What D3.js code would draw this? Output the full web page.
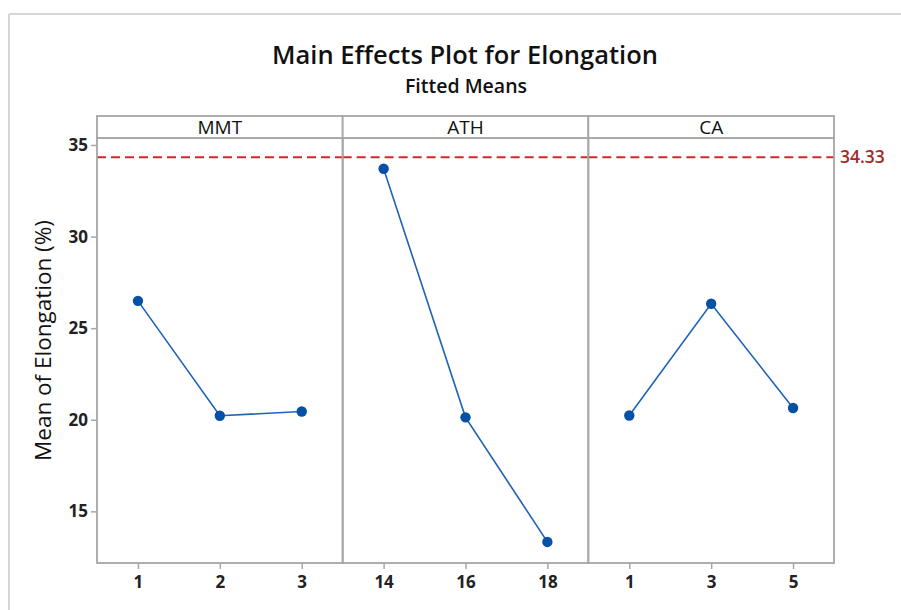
<!DOCTYPE html>
<html>
<head>
<meta charset="utf-8">
<script src="https://cdn.jsdelivr.net/npm/d3@7"></script>
<style>
  html, body { margin: 0; padding: 0; background: #fff; }
  svg { display: block; font-family: "Open Sans", "Noto Sans", sans-serif; }
</style>
</head>
<body>
<svg id="chart" width="901" height="610"></svg>
<script>
// Factors and their levels
const factors = ["MMT", "ATH", "CA"];
const mmtLevels = ["1", "2", "3"];
const athLevels = ["14", "16", "18"];
const caLevels = ["1", "3", "5"];

// Fitted means of elongation (%) at each level
const mmtMeans = [26.49, 20.22, 20.45];
const athMeans = [33.70, 20.13, 13.33];
const caMeans = [20.23, 26.33, 20.64];

// Reference line value and y-axis ticks
const refValue = 34.33;
const yTicks = [15, 20, 25, 30, 35];
const yDomain = [12.18, 35.38];

const panels = [
  { name: factors[0], levels: mmtLevels, means: mmtMeans },
  { name: factors[1], levels: athLevels, means: athMeans },
  { name: factors[2], levels: caLevels, means: caMeans }
];

const svg = d3.select("#chart");

// Layout
const plotLeft = 97, plotRight = 834;
const stripTop = 116, plotTop = 138, plotBottom = 563;
const panelW = (plotRight - plotLeft) / panels.length;

const frameColor = "#a6a6a6";
const lineColor = "#1f63b6";
const pointColor = "#0451a5";
const refColor = "#d8252c";
const refLabelColor = "#a32a2a";
const fontFam = "\"Open Sans\", \"Noto Sans\", sans-serif";

// Outer light frame
svg.append("line").attr("x1", 9).attr("x2", 901).attr("y1", 14).attr("y2", 14)
  .attr("stroke", "#d6d6d6").attr("stroke-width", 2);
svg.append("line").attr("x1", 9).attr("x2", 9).attr("y1", 14).attr("y2", 610)
  .attr("stroke", "#d6d6d6").attr("stroke-width", 2);

// Titles
svg.append("text").attr("x", 465).attr("y", 64).attr("text-anchor", "middle")
  .attr("font-size", 25.5).attr("font-weight", 600).attr("fill", "#111")
  .text("Main Effects Plot for Elongation");
svg.append("text").attr("x", 466).attr("y", 93).attr("text-anchor", "middle")
  .attr("font-size", 19.5).attr("font-weight", 600).attr("fill", "#111")
  .text("Fitted Means");

// Shared y scale
const y = d3.scaleLinear().domain(yDomain).range([plotBottom, plotTop]);

// Y axis
const yAxis = d3.axisLeft(y).tickValues(yTicks).tickSize(6).tickPadding(3);
const gy = svg.append("g").attr("transform", `translate(${plotLeft},0)`).call(yAxis);
gy.select(".domain").remove();
gy.selectAll(".tick line").attr("stroke", frameColor).attr("stroke-width", 1.5);
gy.selectAll(".tick text").attr("font-size", 17).attr("font-weight", 700)
  .attr("fill", "#222").attr("font-family", fontFam);

// Y axis title
svg.append("text")
  .attr("transform", `translate(51,${(plotTop + plotBottom) / 2 - 10}) rotate(-90)`)
  .attr("text-anchor", "middle").attr("font-size", 22.5).attr("font-weight", 500)
  .attr("fill", "#111")
  .text("Mean of Elongation (%)");

const line = d3.line();

panels.forEach((p, i) => {
  const x0 = plotLeft + i * panelW;
  const x = d3.scalePoint().domain(p.levels).range([x0, x0 + panelW]).padding(0.5);

  // x axis ticks
  const xAxis = d3.axisBottom(x).tickSize(6).tickPadding(7);
  const gx = svg.append("g").attr("transform", `translate(0,${plotBottom})`).call(xAxis);
  gx.select(".domain").remove();
  gx.selectAll(".tick line").attr("stroke", frameColor).attr("stroke-width", 1.5);
  gx.selectAll(".tick text").attr("font-size", 17).attr("font-weight", 700)
    .attr("fill", "#222").attr("font-family", fontFam);

  // reference line across this panel
  svg.append("line")
    .attr("x1", x0).attr("x2", x0 + panelW)
    .attr("y1", y(refValue)).attr("y2", y(refValue))
    .attr("stroke", refColor).attr("stroke-width", 2)
    .attr("stroke-dasharray", "9,5");

  // means line and points
  const pts = p.levels.map((l, k) => [x(l), y(p.means[k])]);
  svg.append("path").attr("d", line(pts))
    .attr("fill", "none").attr("stroke", lineColor).attr("stroke-width", 1.6);
  svg.append("g").selectAll("circle").data(pts).join("circle")
    .attr("cx", d => d[0]).attr("cy", d => d[1]).attr("r", 5.2)
    .attr("fill", pointColor);

  // panel border
  svg.append("rect").attr("x", x0).attr("y", plotTop)
    .attr("width", panelW).attr("height", plotBottom - plotTop)
    .attr("fill", "none").attr("stroke", frameColor).attr("stroke-width", 1.8);

  // header strip
  svg.append("rect").attr("x", x0).attr("y", stripTop)
    .attr("width", panelW).attr("height", plotTop - stripTop)
    .attr("fill", "#fff").attr("stroke", frameColor).attr("stroke-width", 1.8);
  svg.append("text").attr("x", x0 + panelW / 2).attr("y", stripTop + 18)
    .attr("text-anchor", "middle").attr("font-size", 19).attr("font-weight", 500)
    .attr("fill", "#111")
    .text(p.name);
});

// reference value label
svg.append("text").attr("x", plotRight + 6).attr("y", y(refValue) + 6)
  .attr("font-size", 17.5).attr("font-weight", 600).attr("fill", refLabelColor)
  .text(d3.format(".2f")(refValue));
</script>
</body>
</html>
